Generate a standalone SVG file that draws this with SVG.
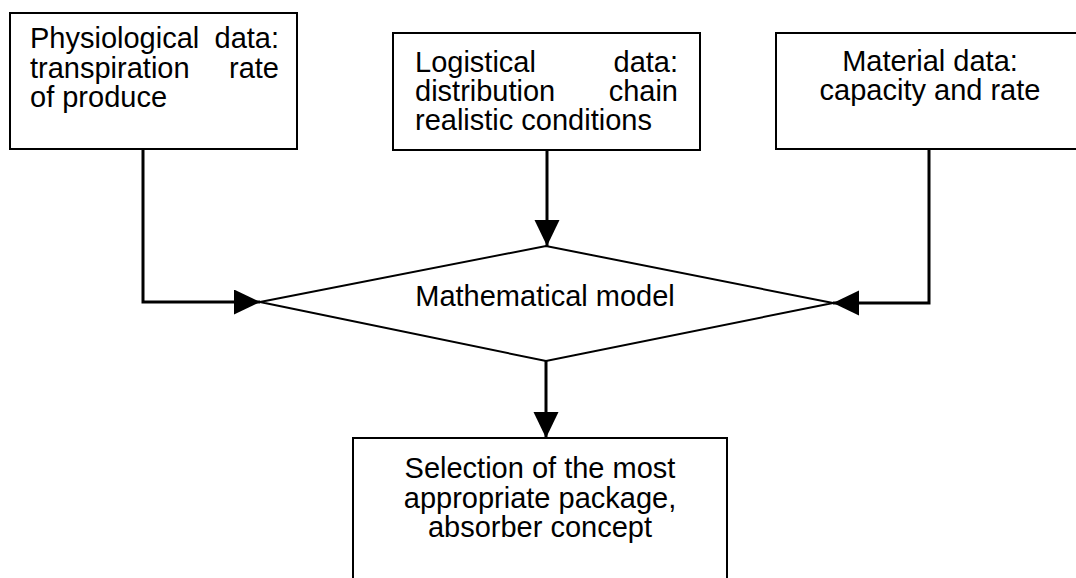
<svg xmlns="http://www.w3.org/2000/svg" width="1076" height="578" viewBox="0 0 1076 578">
<style>
.box{fill:#fff;stroke:#000;stroke-width:2}
.t{font-family:"Liberation Sans",Arial,sans-serif;font-size:29px;fill:#000}
.c{text-anchor:middle}
.e{text-anchor:end}
.conn{fill:none;stroke:#000;stroke-width:3}
</style>
<defs>
<marker id="ah" markerUnits="userSpaceOnUse" markerWidth="27" markerHeight="26" refX="26" refY="12.5" orient="auto">
<path d="M0,0 L26,12.5 L0,25 z" fill="#000"/>
</marker>
</defs>
<rect width="1076" height="578" fill="#fff"/>
<g id="connectors">
<path class="conn" d="M143,149 V302 H260" marker-end="url(#ah)"/>
<path class="conn" d="M547,150 V246" marker-end="url(#ah)"/>
<path class="conn" d="M929,149 V303 H833" marker-end="url(#ah)"/>
<path class="conn" d="M546,361 V438" marker-end="url(#ah)"/>
</g>
<g id="physiological">
<rect class="box" x="10" y="13" width="287" height="136"/>
<text class="t" x="30" y="48">Physiological</text><text class="t e" x="279" y="48">data:</text>
<text class="t" x="30" y="78">transpiration</text><text class="t e" x="279" y="78">rate</text>
<text class="t" x="30" y="107">of produce</text>
</g>
<g id="logistical">
<rect class="box" x="393" y="33" width="307" height="117"/>
<text class="t" x="415" y="72">Logistical</text><text class="t e" x="678" y="72">data:</text>
<text class="t" x="415" y="101">distribution</text><text class="t e" x="678" y="101">chain</text>
<text class="t" x="415" y="130">realistic conditions</text>
</g>
<g id="material">
<rect class="box" x="776" y="33" width="320" height="116"/>
<text class="t c" x="930" y="71">Material data:</text>
<text class="t c" x="930" y="100">capacity and rate</text>
</g>
<g id="model">
<polygon class="box" points="260,302 546,246 833,303 546,361"/>
<text class="t c" x="545" y="306">Mathematical model</text>
</g>
<g id="selection">
<rect class="box" x="353" y="438" width="374" height="160"/>
<text class="t c" x="540" y="478">Selection of the most</text>
<text class="t c" x="540" y="508">appropriate package,</text>
<text class="t c" x="540" y="537">absorber concept</text>
</g>
</svg>
